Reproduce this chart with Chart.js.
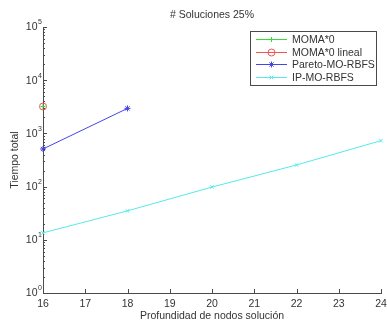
<!DOCTYPE html>
<html>
<head>
<meta charset="utf-8">
<script src="https://cdn.jsdelivr.net/npm/chart.js@4"></script>
<style>
  body { margin: 0; background: #fff; }
</style>
</head>
<body>
<canvas id="chart" width="387" height="324"></canvas>
<script>
// x: depth of the solution nodes, y: total time (log scale)
const depthTicks = [16, 17, 18, 19, 20, 21, 22, 23, 24];
const timeDecades = [1, 10, 100, 1000, 10000, 100000];
const decadeExponents = ['0', '1', '2', '3', '4', '5'];

const momaDepths = [16];
const momaTime = [3200];
const momaLinealDepths = [16];
const momaLinealTime = [3200];
const paretoDepths = [16, 18];
const paretoTime = [510, 2950];
const ipDepths = [16, 18, 20, 22, 24];
const ipTime = [13.5, 35, 98, 255, 730];

const seriesNames = ['MOMA*0', 'MOMA*0 lineal', 'Pareto-MO-RBFS', 'IP-MO-RBFS'];
const seriesColors = ['#33dd33', '#ee5555', '#4444ee', '#55eaea'];
const seriesMarkers = ['cross', 'circle', 'star', 'crossRot'];
const markerRadius = [2.5, 3.5, 3, 2.5];

const FONT = '"Liberation Sans", Arial, Helvetica, sans-serif';
const INK = '#333';
const AXIS = '#4a4a4a';
const NONE = 'rgba(0,0,0,0)';

const toPoints = (xs, ys) => xs.map((x, i) => ({ x: x, y: ys[i] }));

function series(i, xs, ys) {
  const color = seriesColors[i];
  return {
    label: seriesNames[i],
    data: toPoints(xs, ys),
    borderColor: color,
    backgroundColor: NONE,
    borderWidth: 1,
    pointStyle: seriesMarkers[i],
    pointRadius: markerRadius[i],
    pointBorderColor: color,
    pointBackgroundColor: NONE,
    pointBorderWidth: 1,
    pointHoverRadius: markerRadius[i],
    showLine: true,
    tension: 0,
    clip: false
  };
}

// matlab-like axes: inward ticks, superscript decade labels, boxed legend
const matlabAxes = {
  id: 'matlabAxes',
  afterDraw(chart) {
    const { ctx, chartArea: a, scales: { x, y } } = chart;
    ctx.save();
    ctx.strokeStyle = AXIS;
    ctx.fillStyle = INK;
    ctx.lineWidth = 1;

    // x ticks
    ctx.beginPath();
    depthTicks.forEach(d => {
      const px = Math.round(x.getPixelForValue(d)) + 0.5;
      ctx.moveTo(px, a.bottom);
      ctx.lineTo(px, a.bottom - 4);
    });
    // y major and minor ticks
    for (let e = 0; e < timeDecades.length; e++) {
      const base = timeDecades[e];
      const steps = e === timeDecades.length - 1 ? 1 : 9;
      for (let k = 1; k <= steps; k++) {
        const py = Math.round(y.getPixelForValue(base * k)) + 0.5;
        ctx.moveTo(a.left, py);
        ctx.lineTo(a.left + (k === 1 ? 4 : 2), py);
      }
    }
    ctx.stroke();

    ctx.font = '10.5px ' + FONT;
    ctx.textAlign = 'center';
    ctx.textBaseline = 'middle';
    depthTicks.forEach(d => {
      ctx.fillText(String(d), x.getPixelForValue(d), a.bottom + 11);
    });

    timeDecades.forEach((v, i) => {
      const py = y.getPixelForValue(v);
      ctx.font = '10.5px ' + FONT;
      ctx.textAlign = 'right';
      ctx.textBaseline = 'middle';
      ctx.fillText('10', 37.5, py + 0.5);
      ctx.font = '7px ' + FONT;
      ctx.textAlign = 'left';
      ctx.fillText(decadeExponents[i], 38, py - 4.5);
    });

    // titles
    ctx.font = '10.5px ' + FONT;
    ctx.textAlign = 'center';
    ctx.textBaseline = 'middle';
    const cx = (a.left + a.right) / 2;
    ctx.fillText('# Soluciones 25%', cx, 15);
    ctx.fillText('Profundidad de nodos solución', cx, 316);
    ctx.save();
    ctx.translate(15, (a.top + a.bottom) / 2);
    ctx.rotate(-Math.PI / 2);
    ctx.fillText('Tiempo total', 0, 0);
    ctx.restore();

    // legend
    const lx = 250.5, ly = 31.5, lw = 126, lh = 54;
    ctx.fillStyle = '#fff';
    ctx.fillRect(lx, ly, lw, lh);
    ctx.strokeStyle = AXIS;
    ctx.strokeRect(lx, ly, lw, lh);
    seriesNames.forEach((name, i) => {
      const ry = Math.round(39 + i * 12.6) + 0.5;
      ctx.save();
      ctx.strokeStyle = seriesColors[i];
      ctx.fillStyle = NONE;
      ctx.lineWidth = 1;
      ctx.beginPath();
      ctx.moveTo(256, ry);
      ctx.lineTo(287, ry);
      ctx.stroke();
      Chart.helpers.drawPoint(ctx, {
        pointStyle: seriesMarkers[i], radius: markerRadius[i], rotation: 0, borderWidth: 1
      }, 271.5, ry);
      ctx.restore();
      ctx.fillStyle = INK;
      ctx.font = '10.5px ' + FONT;
      ctx.textAlign = 'left';
      ctx.textBaseline = 'middle';
      ctx.fillText(name, 292, ry + 0.5);
    });

    ctx.restore();
  }
};

new Chart(document.getElementById('chart'), {
  type: 'scatter',
  data: {
    datasets: [
      series(0, momaDepths, momaTime),
      series(1, momaLinealDepths, momaLinealTime),
      series(2, paretoDepths, paretoTime),
      series(3, ipDepths, ipTime)
    ]
  },
  options: {
    responsive: false,
    animation: false,
    layout: { padding: { top: 27, right: 6, left: 0, bottom: 0 } },
    plugins: {
      legend: { display: false },
      tooltip: { enabled: false }
    },
    scales: {
      x: {
        type: 'linear',
        min: 16,
        max: 24,
        grid: { display: false },
        border: { display: true, color: AXIS },
        ticks: { display: false },
        afterFit: s => { s.height = 31; }
      },
      y: {
        type: 'logarithmic',
        min: 1,
        max: 100000,
        grid: { display: false },
        border: { display: true, color: AXIS },
        ticks: { display: false },
        afterFit: s => { s.width = 43; }
      }
    }
  },
  plugins: [matlabAxes]
});
</script>
</body>
</html>
